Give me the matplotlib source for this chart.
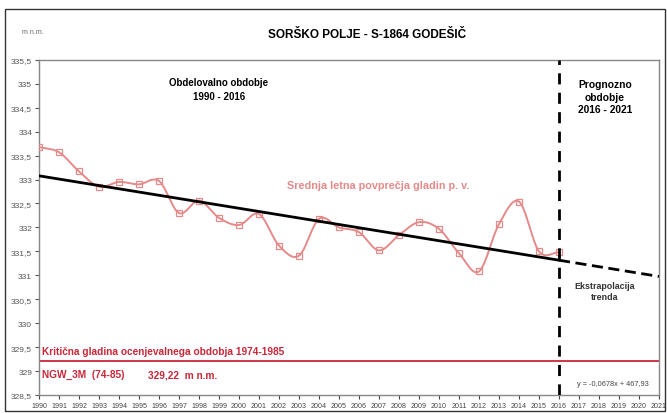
import numpy as np
import matplotlib
matplotlib.use("Agg")
import matplotlib.pyplot as plt
from matplotlib.patches import Rectangle

plt.rcParams['font.family'] = ['Liberation Sans', 'DejaVu Sans']

# data
years = list(range(1990, 2017))
levels = [333.68, 333.57, 333.17, 332.85, 332.95, 332.90, 332.97, 332.30, 332.56,
          332.20, 332.05, 332.28, 331.62, 331.41, 332.18, 332.00, 331.90, 331.52,
          331.84, 332.11, 331.97, 331.46, 331.08, 332.07, 332.54, 331.50, 331.48]
trend_slope = -0.0678
trend_intercept = 468.0
critical_level = 329.22
forecast_end = 2021
split_year = 2016

pink = "#e48a8a"
red = "#c8283a"


def smooth(x, y, n=20):
    # Catmull-Rom curve through the points, like Excel's smoothed line
    x = np.asarray(x, float)
    y = np.asarray(y, float)
    px = np.concatenate([[2 * x[0] - x[1]], x, [2 * x[-1] - x[-2]]])
    py = np.concatenate([[2 * y[0] - y[1]], y, [2 * y[-1] - y[-2]]])
    xs, ys = [], []
    t = np.linspace(0, 1, n, endpoint=False)
    for i in range(1, len(px) - 2):
        for p, out in ((px, xs), (py, ys)):
            p0, p1, p2, p3 = p[i - 1], p[i], p[i + 1], p[i + 2]
            out.extend(0.5 * ((2 * p1) + (-p0 + p2) * t
                              + (2 * p0 - 5 * p1 + 4 * p2 - p3) * t ** 2
                              + (-p0 + 3 * p1 - 3 * p2 + p3) * t ** 3))
    xs.append(x[-1])
    ys.append(y[-1])
    return xs, ys


fig = plt.figure(figsize=(6.67, 4.14), dpi=100)
fig.patches.append(Rectangle((0.007, 0.005), 0.99, 0.972, transform=fig.transFigure,
                             fill=False, edgecolor="#333333", linewidth=1.0))
ax = fig.add_axes([0.0585, 0.0435, 0.9295, 0.8095])

# smoothed mean annual levels
sx, sy = smooth(years, levels)
ax.plot(sx, sy, color=pink, linewidth=1.4, zorder=3)
ax.plot(years, levels, linestyle="none", marker="s", markersize=5,
        markerfacecolor="none", markeredgecolor=pink, markeredgewidth=0.9, zorder=4)

# linear trend and its extrapolation
tx1 = np.array([years[0], split_year])
tx2 = np.array([split_year, forecast_end])
ax.plot(tx1, trend_slope * tx1 + trend_intercept, color="black", linewidth=2, zorder=5)
ax.plot(tx2, trend_slope * tx2 + trend_intercept, color="black", linewidth=2,
        linestyle=(0, (4, 2)), zorder=5)

# critical level
ax.axhline(critical_level, color=red, linewidth=1.3, zorder=2)

# boundary between observed and forecast period
ax.axvline(split_year, color="black", linewidth=2, linestyle=(0, (4, 3)), zorder=6)

ax.set_xlim(1990, 2021)
ax.set_ylim(328.5, 335.5)
ax.set_xticks(range(1990, 2022))
ax.set_yticks(np.arange(328.5, 335.51, 0.5))
ax.set_yticklabels([f"{v:g}".replace(".", ",") for v in np.arange(328.5, 335.51, 0.5)])
ax.tick_params(axis="x", labelsize=5.1, colors="#444444", length=3, pad=2)
ax.tick_params(axis="y", labelsize=6.0, colors="#555555", length=3, pad=2)
for s in ax.spines.values():
    s.set_color("#888888")
    s.set_linewidth(1.0)

fig.text(0.033, 0.922, "m n.m.", fontsize=5, color="#666666", va="center")
fig.text(0.55, 0.915, "SORŠKO POLJE - S-1864 GODEŠIČ", fontsize=8.5,
         fontweight="bold", ha="center", va="center")

ax.text(1999.0, 334.89, "Obdelovalno obdobje\n1990 - 2016", fontsize=7,
        fontweight="bold", ha="center", va="center", linespacing=1.45)
ax.text(2018.3, 334.73, "Prognozno\nobdobje\n2016 - 2021", fontsize=7.4,
        fontweight="bold", ha="center", va="center", linespacing=1.3)
ax.text(2002.4, 332.89, "Srednja letna povprečja gladin p. v.", fontsize=7.8,
        fontweight="bold", color=pink, ha="left", va="center")
ax.text(2018.3, 330.67, "Ekstrapolacija\ntrenda", fontsize=6.4, fontweight="bold",
        color="#333333", ha="center", va="center", linespacing=1.2)
ax.text(1990.15, 329.42, "Kritična gladina ocenjevalnega obdobja 1974-1985",
        fontsize=7.3, fontweight="bold", color=red, ha="left", va="center")
ax.text(1990.15, 328.94, "NGW_3M  (74-85)", fontsize=7.3, fontweight="bold",
        color=red, ha="left", va="center")
ax.text(1995.45, 328.93, "329,22  m n.m.", fontsize=7.3, fontweight="bold",
        color=red, ha="left", va="center")
ax.text(2018.7, 328.73, "y = -0,0678x + 467,93", fontsize=5.3, color="#444444",
        ha="center", va="center")

fig.savefig("out.png", dpi=100)
